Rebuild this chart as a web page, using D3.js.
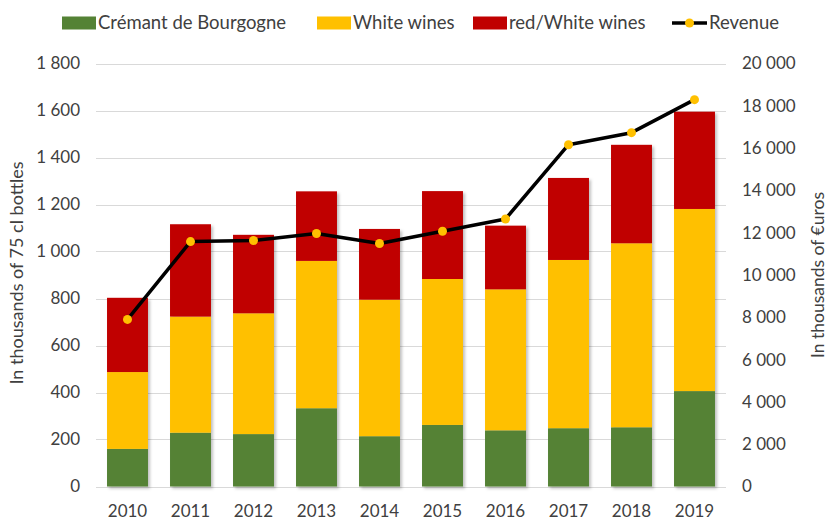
<!DOCTYPE html>
<head>
<meta charset="utf-8">
<title>Bourgogne wines</title>
<style>
  body { margin: 0; background: #fff; }
  svg text { font-family: Lato, "Open Sans", sans-serif; fill: #404040; }
</style>
</head>
<body>
<div id="chart"></div>

<script src="https://cdn.jsdelivr.net/npm/d3@7/dist/d3.min.js"></script>
<script>
// data
const years = ["2010","2011","2012","2013","2014","2015","2016","2017","2018","2019"];
const cremant = [160, 229, 223, 333, 214, 262, 239, 248, 252, 406];
const white   = [327, 494, 514, 627, 581, 621, 600, 716, 783, 775];
const redWhite = [316, 393, 334, 296, 301, 374, 271, 349, 419, 414];
const revenue = [7900, 11580, 11630, 11960, 11490, 12070, 12650, 16160, 16730, 18290];
const leftTicks = [0, 200, 400, 600, 800, 1000, 1200, 1400, 1600, 1800];
const rightTicks = [0, 2000, 4000, 6000, 8000, 10000, 12000, 14000, 16000, 18000, 20000];

const seriesNames = ["Crémant de Bourgogne", "White wines", "red/White wines"];
const seriesColors = ["#548235", "#ffc000", "#c00000"];

const W = 827, H = 520;
const margin = {top: 63.5, right: 101, bottom: 33.5, left: 96};

const svg = d3.select("#chart").append("svg")
  .attr("width", W).attr("height", H);

const defs = svg.append("defs");
const f = defs.append("filter").attr("id", "shadow")
  .attr("x", "-10%").attr("y", "-10%").attr("width", "130%").attr("height", "130%");
f.append("feDropShadow").attr("dx", 2).attr("dy", 2).attr("stdDeviation", 1.5)
  .attr("flood-color", "#000").attr("flood-opacity", 0.25);

const x = d3.scaleBand().domain(years)
  .range([margin.left, W - margin.right]).paddingInner(0.35).paddingOuter(0.175);
const yL = d3.scaleLinear().domain([0, 1800]).range([H - margin.bottom, margin.top]);
const yR = d3.scaleLinear().domain([0, 20000]).range([H - margin.bottom, margin.top]);

const fmt = v => d3.format(",")(v).replace(/,/g, "\u00a0");

// gridlines
svg.append("g").selectAll("line").data(leftTicks).join("line")
  .attr("x1", margin.left).attr("x2", W - margin.right)
  .attr("y1", d => Math.round(yL(d)) + 0.5).attr("y2", d => Math.round(yL(d)) + 0.5)
  .attr("stroke", "#d9d9d9").attr("stroke-width", 1);

// stacked bars
const table = years.map((yr, i) => ({year: yr, s0: cremant[i], s1: white[i], s2: redWhite[i]}));
const stack = d3.stack().keys(["s0", "s1", "s2"])(table);

svg.append("g").attr("filter", "url(#shadow)")
  .selectAll("g").data(stack).join("g")
  .attr("fill", (d, i) => seriesColors[i])
  .selectAll("rect").data(d => d).join("rect")
  .attr("x", d => x(d.data.year))
  .attr("width", x.bandwidth())
  .attr("y", d => yL(d[1]))
  .attr("height", d => yL(d[0]) - yL(d[1]));

// revenue line
const line = d3.line()
  .x((d, i) => x(years[i]) + x.bandwidth() / 2)
  .y(d => yR(d));

svg.append("path").datum(revenue)
  .attr("d", line).attr("fill", "none")
  .attr("stroke", "#000").attr("stroke-width", 3.5)
  .attr("stroke-linejoin", "round");

svg.append("g").selectAll("circle").data(revenue).join("circle")
  .attr("cx", (d, i) => x(years[i]) + x.bandwidth() / 2)
  .attr("cy", d => yR(d))
  .attr("r", 4.5).attr("fill", "#ffc000");

// axes
const axL = svg.append("g").attr("transform", `translate(${margin.left - 16},0)`)
  .call(d3.axisLeft(yL).tickValues(leftTicks).tickFormat(fmt).tickSize(0).tickPadding(0));
const axR = svg.append("g").attr("transform", `translate(${W - margin.right + 16},0)`)
  .call(d3.axisRight(yR).tickValues(rightTicks).tickFormat(fmt).tickSize(0).tickPadding(0));
const axB = svg.append("g").attr("transform", `translate(0,${H - margin.bottom + 25})`)
  .call(d3.axisBottom(x).tickSize(0).tickPadding(0));

[axL, axR, axB].forEach(a => {
  a.select(".domain").remove();
  a.selectAll("text").attr("font-size", 17).attr("fill", "#404040")
    .style("font-family", "Lato, 'Open Sans', sans-serif");
});
axB.selectAll("text").attr("dy", "0.35em");

// axis titles
svg.append("text")
  .attr("transform", `translate(23,${(margin.top + H - margin.bottom) / 2 - 2}) rotate(-90)`)
  .attr("text-anchor", "middle").attr("font-size", 18)
  .text("In thousands of 75 cl bottles");
svg.append("text")
  .attr("transform", `translate(818,${(margin.top + H - margin.bottom) / 2}) rotate(-90)`)
  .attr("text-anchor", "middle").attr("dy", "0.35em").attr("font-size", 17.5)
  .text("In thousands of €uros");

// legend
const legend = svg.append("g").attr("transform", "translate(0,23)");
const legX = [62, 317, 473];
seriesNames.forEach((n, i) => {
  legend.append("rect").attr("x", legX[i]).attr("y", -6.5)
    .attr("width", 34).attr("height", 13).attr("fill", seriesColors[i]);
  legend.append("text").attr("x", legX[i] + 36).attr("dy", "0.35em")
    .attr("font-size", 18.5).text(n);
});
legend.append("line").attr("x1", 672).attr("x2", 707).attr("y1", 0).attr("y2", 0)
  .attr("stroke", "#000").attr("stroke-width", 3.5);
legend.append("circle").attr("cx", 689.5).attr("cy", 0).attr("r", 4.5).attr("fill", "#ffc000");
legend.append("text").attr("x", 709).attr("dy", "0.35em").attr("font-size", 18.5).text("Revenue");
</script>
</body>
